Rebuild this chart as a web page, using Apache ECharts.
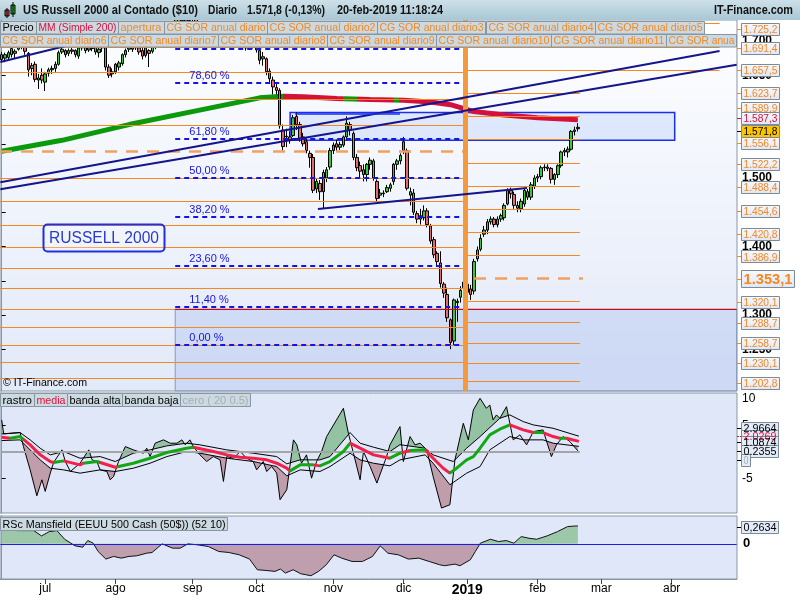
<!DOCTYPE html>
<html><head><meta charset="utf-8">
<script src="https://cdn.jsdelivr.net/npm/echarts@6/dist/echarts.min.js"></script>
<style>html,body{margin:0;padding:0;background:#fff}#c{width:800px;height:600px}</style>
</head><body><div id="c"></div>
<script>
// ================= DATA =================
const startDate = [2018, 5, 13];
const holidays = ['2018-07-04','2018-09-03','2018-11-22','2018-12-05','2018-12-25','2019-01-01','2019-01-21','2019-02-18'];
const nDays = 220;
const monthNames = ['ene','feb','mar','abr','may','jun','jul','ago','sep','oct','nov','dic'];

// daily candles [open, close, low, high]
const candles = [
[1680,1673,1670,1684],[1675,1680,1669,1683],[1676,1683,1672,1686],[1680,1689,1676,1691],[1682,1685,1675,1688],
[1688,1706,1686,1708],[1705,1692,1688,1708],[1695,1685,1680,1697],[1682,1658,1648,1684],[1660,1664,1650,1668],
[1666,1644,1640,1670],[1643,1646,1630,1652],[1650,1643,1638,1660],[1640,1652,1627,1655],[1653,1658,1648,1661],
[1658,1660,1652,1664],[1660,1666,1655,1670],[1666,1683,1664,1686],[1684,1688,1681,1692],[1686,1680,1676,1688],
[1682,1686,1678,1689],[1687,1685,1681,1690],[1686,1680,1676,1688],[1678,1690,1674,1692],[1690,1693,1686,1696],
[1692,1686,1682,1695],[1687,1690,1684,1693],[1689,1695,1685,1697],[1697,1684,1680,1700],[1683,1688,1676,1690],
[1690,1693,1684,1698],[1690,1662,1657,1693],[1662,1650,1646,1666],[1652,1655,1647,1660],[1655,1666,1652,1668],
[1662,1668,1657,1671],[1667,1680,1664,1682],[1680,1686,1676,1689],[1688,1690,1684,1694],[1690,1688,1684,1693],
[1690,1693,1687,1697],[1690,1684,1680,1692],[1686,1678,1673,1690],[1679,1690,1676,1692],[1686,1682,1662,1688],
[1685,1693,1682,1697],[1693,1699,1688,1703],[1700,1703,1696,1707],[1705,1718,1703,1721],[1716,1721,1712,1724],
[1720,1713,1708,1723],[1715,1725,1712,1727],[1728,1732,1724,1736],[1733,1728,1723,1735],[1730,1737,1726,1740],
[1736,1729,1725,1738],[1730,1740,1728,1742],[1738,1733,1727,1741],[1732,1720,1715,1734],[1720,1718,1710,1723],
[1715,1713,1707,1719],[1716,1718,1712,1721],[1716,1719,1710,1721],[1719,1714,1710,1722],[1716,1719,1713,1722],
[1720,1724,1716,1726],[1723,1710,1708,1725],[1711,1713,1707,1717],[1713,1709,1704,1716],[1712,1722,1710,1724],
[1722,1704,1701,1725],[1703,1692,1688,1705],[1692,1699,1690,1701],[1700,1690,1686,1706],[1692,1695,1688,1698],
[1693,1697,1689,1699],[1699,1687,1683,1703],[1686,1672,1666,1690],[1674,1677,1664,1684],[1674,1655,1650,1676],
[1656,1645,1638,1660],[1643,1633,1622,1648],[1632,1628,1622,1638],[1628,1576,1572,1631],[1570,1546,1540,1578],
[1560,1561,1545,1572],[1560,1556,1550,1568],[1562,1588,1560,1592],[1590,1578,1570,1596],[1578,1558,1553,1582],
[1560,1550,1546,1566],[1553,1540,1536,1558],[1536,1530,1515,1540],[1530,1482,1478,1535],[1484,1495,1478,1500],
[1492,1480,1468,1497],[1480,1508,1456,1512],[1500,1512,1494,1516],[1516,1540,1512,1544],[1540,1548,1535,1552],
[1550,1545,1538,1556],[1545,1549,1541,1553],[1548,1560,1545,1562],[1560,1580,1555,1590],[1578,1570,1562,1582],
[1565,1530,1526,1568],[1530,1515,1510,1535],[1518,1510,1500,1524],[1512,1505,1495,1520],[1505,1520,1495,1522],
[1520,1526,1512,1530],[1525,1500,1496,1528],[1495,1470,1466,1498],[1475,1478,1470,1484],[1478,1477,1472,1482],
[1480,1486,1478,1490],[1485,1490,1480,1493],[1495,1520,1490,1522],[1520,1525,1512,1528],[1525,1533,1520,1536],
[1553,1540,1535,1560],[1540,1485,1482,1543],[1475,1480,1460,1486],[1478,1450,1446,1484],[1448,1440,1434,1452],
[1445,1440,1432,1455],[1442,1452,1438,1460],[1452,1432,1428,1456],[1430,1408,1404,1433],[1410,1388,1383,1414],
[1390,1378,1370,1393],[1376,1346,1340,1393],[1345,1332,1325,1348],[1330,1296,1290,1340],[1293,1260,1250,1295],
[1262,1322,1255,1324],[1318,1320,1290,1324],[1326,1336,1318,1342],[1340,1348,1335,1355],[1333,1345,1328,1350],
[1338,1330,1322,1344],[1335,1378,1330,1382],[1382,1395,1378,1400],[1396,1412,1393,1418],[1418,1424,1414,1430],
[1424,1436,1418,1440],[1436,1440,1432,1444],[1440,1432,1428,1443],[1432,1440,1428,1444],[1440,1445,1436,1448],
[1442,1460,1438,1463],[1462,1482,1460,1485],[1482,1477,1470,1486],[1476,1460,1455,1480],[1460,1456,1450,1466],
[1455,1466,1450,1470],[1462,1482,1458,1485],[1480,1472,1468,1484],[1472,1490,1468,1494],[1488,1500,1484,1504],
[1500,1502,1494,1506],[1502,1515,1498,1518],[1515,1516,1510,1520],[1516,1514,1510,1520],[1514,1498,1492,1516],
[1498,1505,1490,1507],[1505,1518,1500,1520],[1518,1538,1515,1540],[1538,1540,1532,1544],[1538,1542,1530,1546],
[1542,1568,1540,1570],[1568,1570,1562,1575],[1574,1572,1568,1580]
];

// simple 200-day moving average [dayIndex, value]
const maPts = [[0,1539],[18,1555],[38,1578],[58,1598],[77,1617],[84,1619.5],[90,1618.5],[100,1616],[110,1614.5],[120,1613.5],[128,1611],[134,1607],[141,1597],[150,1592],[160,1588],[172,1585]];

// annual levels (CG SOR) 2018 / 2019 and opening prices
const levels2018 = [1691.2,1654.7,1615.3,1577,1500,1466.4,1431.4,1398.8,1368.6,1339,1308.8,1282,1255.8,1231,1207.6];
const open2018 = 1538.4;
const levels2019 = [1725.2,1691.4,1657.5,1623.7,1589.9,1556.1,1522.2,1488.4,1454.6,1420.8,1386.9,1320.1,1288.7,1258.7,1230.1,1202.8];
const levels2019Long = [1725.2,1691.4,1657.5];
const open2019 = 1353.1;

// Fibonacci retracement levels
const fibLevels = [1688.3,1639.4,1557.5,1500,1443,1371.5,1311.7,1256];
const fibLabels = ['88,60 %','78,60 %','61,80 %','50,00 %','38,20 %','23,60 %','11,40 %','0,00 %'];

// drawn trend lines [[x1,y1],[x2,y2]] in (dayIndex, price)
const trendLines = [
  [[-0.4,1493.9],[214.3,1685.4]],
  [[-0.4,1483.5],[219.4,1665.4]],
  [[-0.4,1669.4],[26.4,1701.5]],
  [[94.4,1454.7],[156.8,1485.4]]
];
const blueBox = [[86.1,1595.6],[200.9,1555]];
const blueShort = [[87.6,1593.4],[118.9,1593.4]];
const lowBox = [[51.8,1308.8],[219.4,1189.2]];

// oscillator (rastro / media / bands)
const rastroPts = [[0,6.06],[0.6,3.43],[5.5,3.68],[6.5,1.05],[8.5,-3.33],[10.5,-8.2],[12,-5.2],[13,-7.38],[14.5,-3.95],[15.5,-1.95],[18,0.43],[19,-1.76],[20.5,-3.64],[23.4,-2.08],[26,0.43],[27,-1.45],[28.4,-1.76],[29.4,-3.33],[31.4,-3.64],[32.4,-5.2],[33.4,-4.58],[34.9,-1.76],[36.9,1.05],[39.3,0.43],[42.3,-0.2],[43.3,0.74],[44.3,-0.83],[45.8,1.68],[48.3,2.31],[50.3,1.68],[52.3,1.68],[53.8,2.31],[54.8,1.37],[56.2,2.31],[57.2,1.05],[59.2,-0.51],[61.2,-1.76],[63.2,-0.83],[65.2,-1.45],[66.2,-5.51],[67.2,-0.83],[69.2,-1.14],[71.2,0.12],[73.1,-1.14],[75.1,-1.76],[76.1,-3.33],[78.1,-1.76],[79.1,-3.64],[80.6,-2.71],[82.1,-3.95],[83.1,-8.95],[85.1,-7.07],[86.1,-2.39],[87.1,2.31],[88.1,1.37],[89.5,-2.08],[91,-0.51],[92.5,-4.89],[94,-1.76],[95.5,0.12],[97,2.93],[102,8.24],[103.5,3.55],[105,-0.2],[107,-5.2],[108,0.12],[110,-2.71],[112,-5.82],[114.9,-0.83],[115.9,1.37],[118.9,4.81],[119.9,-1.76],[121.9,2.93],[123.4,1.37],[124.9,1.68],[126.9,0.43],[128.8,-4.58],[131.3,-10.5],[133.8,-9.89],[135.3,-1.45],[137.8,5.43],[139.3,2.31],[140.8,7.93],[142.8,10.12],[144.7,8.24],[145.7,8.87],[146.7,6.06],[147.7,7.0],[148.7,6.37],[150.7,8.55],[152.7,2.31],[154.7,3.25],[156.7,1.37],[158.7,3.87],[161.6,4.18],[164.1,-0.83],[165.6,1.37],[167.6,2.93],[169.6,1.99],[172,0.24]];
const upperPts = [[0,3.43],[5.5,3.68],[8.5,2.31],[11.5,0.74],[14.5,-0.51],[18.5,0.12],[23.4,-1.14],[29.4,-0.83],[33.9,-1.76],[39.3,-0.2],[44.3,0.43],[49.3,1.18],[55.2,1.68],[59.2,1.37],[67.2,0.43],[75.1,-0.2],[82.1,-0.83],[85.1,-2.2],[89.1,-1.45],[95,-1.45],[98,-0.83],[104,3.68],[107,1.68],[111,0.93],[115.9,0.12],[118.9,1.4],[126.4,0.74],[128.8,-0.51],[134.8,-1.76],[138.8,0.74],[142.8,2.93],[148.7,6.37],[151.7,7.0],[155.7,5.74],[158.7,5.12],[164.6,4.49],[172.3,3.0]];
const lowerPts = [[0,2.18],[5.5,2.31],[8.5,0.43],[11.5,-1.45],[14.5,-3.02],[18.5,-3.33],[23.4,-3.95],[29.4,-3.33],[33.9,-3.64],[39.3,-3.02],[44.3,-2.08],[49.3,-0.83],[55.2,0.12],[59.2,-0.2],[67.2,-1.14],[75.1,-1.76],[82.1,-2.71],[85.1,-4.45],[89.1,-3.33],[95,-3.64],[98,-2.71],[104,-0.2],[107,-1.45],[111,-2.08],[115.9,-2.58],[118.9,-1.45],[126.4,-0.51],[128.8,-2.08],[133.8,-6.14],[138.8,-3.95],[142.8,-2.71],[145.7,0.43],[151.7,2.93],[155.7,2.31],[161.6,2.31],[164.6,1.68],[172.3,1.09]];
const mediaPts = [[0,2.81],[2.6,2.62],[5.5,2.93],[8.5,1.37],[11.5,-0.51],[14.5,-1.76],[15.5,-1.95],[18.5,-1.64],[23.4,-2.39],[24.4,-2.08],[28.4,-1.76],[29.4,-1.95],[33.9,-2.83],[39.3,-2.08],[44.3,-1.14],[49.3,-0.07],[55.2,0.74],[57.2,0.93],[63.2,0.12],[67.2,-0.51],[71.2,-0.95],[75.1,-1.14],[79.1,-1.45],[82.1,-2.08],[85.1,-3.02],[86.1,-3.52],[89.1,-2.39],[93,-2.39],[95,-2.58],[98,-1.76],[102,0.12],[104,1.68],[107,0.74],[111,-0.51],[115.9,-1.14],[118.9,-0.2],[121.9,0.3],[126.4,0.43],[126.9,0.12],[128.8,-1.14],[131.8,-3.02],[133.8,-3.95],[135.8,-3.02],[138.8,-1.45],[140.8,-0.83],[142.8,0.74],[145.7,3.25],[148.7,4.31],[151.7,5.12],[155.7,4.18],[158.7,3.68],[161.6,3.68],[164.6,2.93],[166.6,2.62],[168.6,2.62],[172.3,2.03]];
const mediaGreen = [[2.5,6.5],[15.5,18.5],[24.4,29],[34.4,57.2],[86.1,93.3],[95,104],[115.9,119.5],[121.9,126.4],[133.8,151.7],[158.7,161.6],[166.6,168.6]];
const maGreen = [[-1,84],[102,106],[117,118.5]];
const oscLast = [[2.9664,'2.9664','#000'],[2.0269,'2.0269','#e8103c'],[1.0874,'1.0874','#000'],[0.2355,'0.2355','#000'],[0,'0','#a6aeb6']];

// RSc Mansfield
const rscPts = [[0,0.205],[5,0.195],[9.6,0.195],[11.9,0.117],[14.2,0.18],[16.5,0.195],[18.8,0.068],[21.9,-0.029],[24.2,-0.049],[25.7,0.049],[27.3,0.01],[28.8,-0.112],[31.1,-0.224],[33.4,-0.185],[35.7,-0.21],[38,-0.185],[40.3,-0.176],[43.3,-0.137],[44.9,-0.127],[47.9,0],[51,-0.063],[53.3,-0.063],[55.6,0],[58.6,-0.015],[61.7,-0.039],[64.8,-0.112],[67.8,-0.127],[70.9,-0.161],[74,-0.224],[76.3,-0.381],[78.6,-0.39],[81.6,-0.405],[83.2,-0.371],[84.7,-0.43],[87,-0.381],[89.3,-0.44],[90.8,-0.454],[92.3,-0.469],[94.6,-0.405],[96.9,-0.307],[99.2,-0.161],[101.5,-0.21],[104.6,-0.259],[107.7,-0.259],[110.7,-0.185],[113,-0.029],[115.3,-0.137],[118.4,-0.161],[121.4,-0.224],[124.5,-0.21],[127.6,-0.259],[130.7,-0.307],[132.2,-0.322],[135.3,-0.298],[136.8,-0.322],[139.9,-0.234],[141.4,-0.112],[142.9,0.01],[145.9,0.068],[148.3,0.034],[150.6,0.049],[152.9,0.01],[155.1,0.107],[157.4,0.083],[159.7,0.068],[162.8,0.117],[165.9,0.18],[168.9,0.254],[171.2,0.263],[172,0.2634]];

// right price axis labels [value, kind, displayShift]
const priceLabels = [[1725.2,'o',5],[1691.4,'o',1],[1657.5,'o',0],[1623.7,'o',0],[1589.9,'o',-8],[1587.3,'r',0],[1556.1,'o',3.5],[1522.2,'o',1],[1488.4,'o',1],[1454.6,'o',2],[1420.8,'o',2],[1386.9,'o',1],[1353.1,'big',0],[1320.1,'o',1],[1288.7,'o',0],[1258.7,'o',0],[1230.1,'o',0],[1202.8,'o',1],[1571.8,'y',2]];
const blackTicks = [1250,1300,1350,1400,1450,1500,1550,1600,1650,1700];

// ================= HELPERS =================
function fmtNum(v, dec){
  const s = Math.abs(v).toFixed(dec); let p = s.split('.');
  let i = p[0].replace(/\B(?=(\d{3})+(?!\d))/g,'.');
  return (v<0?'-':'') + (p[1] ? i + ',' + p[1] : i);
}
function buildDates(){
  const out=[]; let t = Date.UTC(startDate[0],startDate[1],startDate[2]);
  while(out.length<nDays){
    const d=new Date(t), dow=d.getUTCDay(), s=d.toISOString().slice(0,10);
    if(dow!==0 && dow!==6 && holidays.indexOf(s)<0) out.push(s);
    t += 86400000;
  }
  return out;
}
const dates = buildDates();
const monthStart = dates.map((d,i)=> i>0 && d.slice(5,7)!==dates[i-1].slice(5,7));

function evalAt(arr, x){
  if (x < arr[0][0] || x > arr[arr.length-1][0]) return null;
  for (let k=1;k<arr.length;k++){
    if (x <= arr[k][0]) { const a=arr[k-1], b=arr[k]; const t=(x-a[0])/((b[0]-a[0])||1); return a[1]+t*(b[1]-a[1]); }
  }
  return arr[arr.length-1][1];
}
function regions(A,B,sign){
  const lo=Math.max(A[0][0],B[0][0]), hi=Math.min(A[A.length-1][0],B[B.length-1][0]);
  const xs=Array.from(new Set(A.map(p=>p[0]).concat(B.map(p=>p[0])))).filter(x=>x>=lo&&x<=hi).sort((a,b)=>a-b);
  const polys=[]; let cur=null, px=null, pd=null;
  xs.forEach(x=>{
    const a=evalAt(A,x), b=evalAt(B,x), d=sign*(a-b);
    if (px!==null && ((pd>0)!==(d>0))){
      const xc = px + (x-px)*pd/(pd-d); const yc = evalAt(A,xc);
      if (cur){ cur.top.push([xc,yc]); polys.push(cur); cur=null; }
      else cur={top:[[xc,yc]], bot:[]};
    }
    if (d>0){ if(!cur) cur={top:[],bot:[]}; cur.top.push([x,a]); cur.bot.push([x,b]); }
    px=x; pd=d;
  });
  if(cur) polys.push(cur);
  return polys.map(p=>p.top.concat(p.bot.slice().reverse()));
}
function pieces(greens, gCol, rCol){
  const out=[]; let last=-10;
  greens.forEach(g=>{ out.push({gte:last, lt:g[0], color:rCol}); out.push({gte:g[0], lt:g[1], color:gCol}); last=g[1]; });
  out.push({gte:last, lte:1000, color:rCol});
  return out;
}

// ================= CHART =================
const ORANGE = '#f5881f';
const yMin = 1189.05, yMax = 1730.66;
const chart = echarts.init(document.getElementById('c'), null, {width:800, height:600});

const segs = [];
levels2018.forEach(v=>segs.push([{coord:[-0.5,v], lineStyle:{color:ORANGE,width:1,type:'solid'}},{coord:[138.3,v]}]));
segs.push([{coord:[-0.5,open2018], lineStyle:{color:'#f2a060',width:2.5,type:[12,9]}},{coord:[138.3,open2018]}]);
levels2019.forEach(v=>{
  const end = levels2019Long.indexOf(v)>=0 ? 214.3 : 172.6;
  segs.push([{coord:[139,v], lineStyle:{color:ORANGE,width:1,type:'solid'}},{coord:[end,v]}]);
});
segs.push([{coord:[141,open2019], lineStyle:{color:'#f2a060',width:2.5,type:[12,9]}},{coord:[173.5,open2019]}]);
fibLevels.forEach(v=>segs.push([{coord:[51.8,v], lineStyle:{color:'#1414e6',width:2,type:[5,4]}},{coord:[138.3,v]}]));
segs.push([{coord:[lowBox[0][0],lowBox[0][1]], lineStyle:{color:'#e00000',width:1,type:'solid'}},{coord:[219.4,lowBox[0][1]]}]);
segs.push([{coord:[138.5,yMin+0.1], lineStyle:{color:'#f39a3e',width:5,type:'solid'}},{coord:[138.5,yMax-0.1]}]);

const frontSegs = trendLines.map(t=>[{coord:t[0], lineStyle:{color:'#14148c',width:2,type:'solid'}},{coord:t[1]}]);
frontSegs.push([{coord:blueShort[0], lineStyle:{color:'#1a2ef0',width:1.5,type:'solid'}},{coord:blueShort[1]}]);

const axisGray = '#8797a6';
const option = {
  animation:false,
  backgroundColor:'#ffffff',
  grid:[
    {left:0, top:20, width:737, height:371, show:true, backgroundColor:{type:'linear',x:0,y:0,x2:0,y2:1,colorStops:[{offset:0,color:'#fdfeff'},{offset:1,color:'#e2e9f8'}]}, borderColor:axisGray, borderWidth:1, outerBoundsMode:'none', containLabel:false},
    {left:0, top:393, width:737, height:120, show:true, backgroundColor:'#dfe7f8', borderColor:axisGray, borderWidth:1, outerBoundsMode:'none', containLabel:false},
    {left:0, top:516, width:737, height:63, show:true, backgroundColor:'#dfe7f8', borderColor:axisGray, borderWidth:1, outerBoundsMode:'none', containLabel:false}
  ],
  xAxis:[
    {type:'category', gridIndex:0, data:dates, show:false},
    {type:'value', gridIndex:0, min:-0.5, max:nDays-0.5, show:false},
    {type:'value', gridIndex:1, min:-0.5, max:nDays-0.5, show:false},
    {type:'value', gridIndex:2, min:-0.5, max:nDays-0.5, show:false},
    {type:'category', gridIndex:2, data:dates, position:'bottom',
      axisLine:{show:true, lineStyle:{color:axisGray}},
      axisTick:{show:true, alignWithLabel:true, interval:(i)=>monthStart[i], length:5, lineStyle:{color:'#444'}},
      axisLabel:{interval:(i)=>monthStart[i], margin:4, color:'#000', fontSize:12, fontFamily:'Liberation Sans, Arial',
        formatter:(v)=>{ const m=parseInt(v.slice(5,7),10)-1; return m===0 ? '{y|'+v.slice(0,4)+'}' : monthNames[m]; },
        rich:{y:{fontWeight:'bold', fontSize:14, color:'#000', fontFamily:'Liberation Sans, Arial'}}},
      splitLine:{show:false}}
  ],
  yAxis:[
    {type:'value', gridIndex:0, position:'right', min:yMin, max:yMax, splitLine:{show:false},
      axisLine:{show:true, lineStyle:{color:axisGray}},
      axisTick:{show:true, customValues:blackTicks, length:4, lineStyle:{color:'#000'}},
      axisLabel:{show:true, customValues:blackTicks, formatter:(v)=>fmtNum(v,0), color:'#000', fontWeight:'bold', fontSize:12, margin:5, fontFamily:'Liberation Sans, Arial'}},
    {type:'value', gridIndex:1, position:'right', min:-11.44, max:11.12, splitLine:{show:false},
      axisLine:{show:true, lineStyle:{color:axisGray}},
      axisTick:{show:true, customValues:[10,5,-5], length:4, lineStyle:{color:'#000'}},
      axisLabel:{show:true, customValues:[10,5,-5], color:'#000', fontSize:12, margin:5, fontFamily:'Liberation Sans, Arial'}},
    {type:'value', gridIndex:2, position:'right', min:-0.517, max:0.41, splitLine:{show:false},
      axisLine:{show:true, lineStyle:{color:axisGray}},
      axisTick:{show:true, customValues:[0], length:4, lineStyle:{color:'#000'}},
      axisLabel:{show:true, customValues:[0], color:'#000', fontSize:13, fontWeight:'bold', margin:6, fontFamily:'Liberation Sans, Arial'}}
  ],
  visualMap:[
    {type:'piecewise', show:false, seriesIndex:1, dimension:0, pieces:pieces(maGreen,'#0b9a0b','#d4103c')},
    {type:'piecewise', show:false, seriesIndex:8, dimension:0, pieces:pieces(mediaGreen,'#12a812','#f4204a')},
    {type:'piecewise', show:false, seriesIndex:9, dimension:1, pieces:[{gte:0, lte:10, color:'#9cc7a9'},{gte:-10, lt:0, color:'#bf9fae'}]}
  ],
  series:[
    // 0 back overlays
    {type:'line', xAxisIndex:1, yAxisIndex:0, data:[[0,1500]], symbol:'none', lineStyle:{opacity:0}, silent:true, z:2,
      markArea:{silent:true, label:{show:false}, data:[
        [{coord:lowBox[0], itemStyle:{color:'rgba(176,196,240,0.42)', borderColor:'#8a98b8', borderWidth:1}},{coord:lowBox[1]}],
        [{coord:blueBox[0], itemStyle:{color:'rgba(196,212,250,0.45)', borderColor:'#1a2ef0', borderWidth:1.5}},{coord:blueBox[1]}]
      ]},
      markLine:{silent:true, symbol:['none','none'], label:{show:false}, data:segs}},
    // 1 moving average
    {type:'line', xAxisIndex:1, yAxisIndex:0, data:maPts, symbol:'none', lineStyle:{width:5}, z:3, silent:true},
    // 2 candles
    {type:'candlestick', xAxisIndex:0, yAxisIndex:0, data:candles, barWidth:3, z:4, silent:true,
      itemStyle:{color:'#33cc33', color0:'#e46b6b', borderColor:'#000', borderColor0:'#000', borderWidth:1}},
    // 3 front overlays
    {type:'line', xAxisIndex:1, yAxisIndex:0, data:[[0,1500]], symbol:'none', lineStyle:{opacity:0}, silent:true, z:5,
      markLine:{silent:true, symbol:['none','none'], label:{show:false}, data:frontSegs}},
    // 4 oscillator fills
    {type:'custom', xAxisIndex:2, yAxisIndex:1, data:[[0,0]], silent:true, z:1, clip:true,
      renderItem:function(params, api){
        const ch=[];
        regions(rastroPts, upperPts, 1).forEach(p=>ch.push({type:'polygon', shape:{points:p.map(q=>api.coord(q))}, style:{fill:'#93c3a3'}}));
        regions(rastroPts, lowerPts, -1).forEach(p=>ch.push({type:'polygon', shape:{points:p.map(q=>api.coord(q))}, style:{fill:'#bf9daa'}}));
        return {type:'group', children:ch};
      }},
    // 5 upper band
    {type:'line', xAxisIndex:2, yAxisIndex:1, data:upperPts, symbol:'none', lineStyle:{color:'#000', width:1}, z:3, silent:true,
      markLine:{silent:true, symbol:['none','none'], label:{show:false}, data:[[{coord:[0,0], lineStyle:{color:'#a4a4a4', width:2, type:'solid'}},{coord:[172.6,0]}]]}},
    // 6 lower band
    {type:'line', xAxisIndex:2, yAxisIndex:1, data:lowerPts, symbol:'none', lineStyle:{color:'#000', width:1}, z:3, silent:true},
    // 7 rastro
    {type:'line', xAxisIndex:2, yAxisIndex:1, data:rastroPts, symbol:'none', lineStyle:{color:'#000', width:1}, z:4, silent:true},
    // 8 media
    {type:'line', xAxisIndex:2, yAxisIndex:1, data:mediaPts, symbol:'none', lineStyle:{width:3}, z:5, silent:true},
    // 9 RSc area
    {type:'line', xAxisIndex:3, yAxisIndex:2, data:rscPts, symbol:'none', lineStyle:{width:0, opacity:0}, areaStyle:{opacity:1}, z:2, silent:true},
    // 10 RSc line
    {type:'line', xAxisIndex:3, yAxisIndex:2, data:rscPts, symbol:'none', lineStyle:{color:'#111', width:1}, z:3, silent:true,
      markLine:{silent:true, symbol:['none','none'], label:{show:false}, data:[[{coord:[-0.4,0], lineStyle:{color:'#1e1ee0', width:1.2, type:'solid'}},{coord:[nDays-0.6,0]}]]}}
  ]
};
chart.setOption(option);

// ================= ANNOTATIONS =================
const mctx = document.createElement('canvas').getContext('2d');
const FF = '"Liberation Sans", Arial, sans-serif';
function textEl(x, y, str, font, color, opts){
  opts = opts || {};
  mctx.font = font; const tw = mctx.measureText(str).width;
  const sc = opts.w ? Math.min(opts.grow?10:1, opts.w/tw) : 1;
  return {type:'text', z:opts.z||101, x:x, y:y, scaleX:sc, silent:true,
    style:{text:str, font:font, fill:color, align:opts.align||'left', textAlign:opts.align||'left', verticalAlign:'middle', textVerticalAlign:'middle'}};
}
function boxEl(x, y, w, h, str, color, o){
  o = o || {};
  const els=[];
  els.push({type:'rect', z:o.z||100, silent:true, shape:{x:Math.round(x)+0.5, y:Math.round(y)+0.5, width:w, height:h},
    style:{fill:o.fill||'#ccd9e1', stroke:o.stroke||'#8696a2', lineWidth:1}});
  const font = (o.bold?'bold ':'') + (o.size||11) + 'px ' + FF;
  mctx.font = font; const tw = mctx.measureText(str).width;
  const sc = Math.min(1, (w-4)/tw);
  if (o.center) els.push(Object.assign(textEl(x+w/2+0.5, y+h/2+1, str, font, color, {align:'center', z:(o.z||100)+1}), {scaleX:sc}));
  else els.push(Object.assign(textEl(x+2.5, y+h/2+1, str, font, color, {z:(o.z||100)+1}), {scaleX:sc}));
  return els;
}
const py = v => chart.convertToPixel({yAxisIndex:0}, v);
const pxm = i => chart.convertToPixel({xAxisIndex:1}, i);
const oy = v => chart.convertToPixel({yAxisIndex:1}, v);
const ry = v => chart.convertToPixel({yAxisIndex:2}, v);

let G = [];
// title bar
G.push({type:'rect', z:99, silent:true, shape:{x:0,y:0,width:800,height:20}, style:{fill:{type:'linear',x:0,y:0,x2:0,y2:1,colorStops:[{offset:0,color:'#cde0e8'},{offset:1,color:'#a9c7d5'}]}}});
G.push({type:'rect', z:100, silent:true, shape:{x:5,y:10,width:4,height:6}, style:{fill:'#e05050', stroke:'#000', lineWidth:1}});
G.push({type:'line', z:100, silent:true, shape:{x1:7,y1:8,x2:7,y2:18}, style:{stroke:'#000', lineWidth:1}});
G.push({type:'rect', z:100, silent:true, shape:{x:11,y:5,width:4,height:9}, style:{fill:'#30c030', stroke:'#000', lineWidth:1}});
G.push({type:'line', z:100, silent:true, shape:{x1:13,y1:2,x2:13,y2:17}, style:{stroke:'#000', lineWidth:1}});
const TB = 'bold 12px ' + FF;
G.push(textEl(23, 11, 'US Russell 2000 al Contado ($10)', TB, '#111', {w:175}));
G.push(textEl(208, 11, 'Diario', TB, '#111', {w:29}));
G.push(textEl(247, 11, '1.571,8 (-0,13%)', TB, '#111', {w:78}));
G.push(textEl(337, 11, '20-feb-2019 11:18:24', TB, '#111', {w:106}));
G.push(textEl(793, 11, 'IT-Finance.com', TB, '#111', {w:79, align:'right'}));

// legend rows
const row1 = [['Precio','#000',0,36],['MM (Simple 200)','#d8103c',36,82],['apertura',ORANGE,118,46],['CG SOR anual diario',ORANGE,164,103],['CG SOR anual diario2',ORANGE,267,110],['CG SOR anual diario3',ORANGE,377,108],['CG SOR anual diario4',ORANGE,486,109],['CG SOR anual diario5',ORANGE,595,109]];
const row2 = [['CG SOR anual diario6',ORANGE,0,108],['CG SOR anual diario7',ORANGE,108,110],['CG SOR anual diario8',ORANGE,218,109],['CG SOR anual diario9',ORANGE,327,109],['CG SOR anual diario10',ORANGE,436,115],['CG SOR anual diario11',ORANGE,551,115],['CG SOR anua',ORANGE,666,70]];
row1.forEach(r=>{ G = G.concat(boxEl(r[2], 20.5, r[3], 12.5, r[0], r[1])); });
row2.forEach(r=>{ G = G.concat(boxEl(r[2], 33.5, r[3], 12.5, r[0], r[1])); });

// fib labels
fibLevels.forEach((v,k)=>{ G.push(textEl(pxm(56), py(v)-7, fibLabels[k], '11px '+FF, '#1414e6', {z:50})); });

// RUSSELL 2000 box, copyright
G.push({type:'rect', z:60, silent:true, shape:{x:43.5,y:224.5,width:121,height:27,r:4}, style:{fill:'rgba(255,255,255,0.25)', stroke:'#2030e0', lineWidth:2}});
G.push(textEl(104, 239, 'RUSSELL 2000', '16px '+FF, '#2a3ad0', {align:'center', z:61, w:110}));
G.push(textEl(3, 383, '\u00a9 IT-Finance.com', '11px '+FF, '#000', {z:61, w:84}));

// right price labels
priceLabels.forEach(p=>{
  const v=p[0], kind=p[1], yc=py(v)+p[2];
  let col=ORANGE, fill={type:'linear',x:0,y:0,x2:0,y2:1,colorStops:[{offset:0,color:'#f7f9fd'},{offset:1,color:'#dfe6f4'}]}, w=38, h=12, size=11, bold=false, tick=ORANGE;
  if(kind==='r'){ col='#d8103c'; tick='#d8103c'; }
  if(kind==='y'){ col='#000'; fill='#ffc400'; tick='#000'; }
  if(kind==='big'){ w=53; h=17; size=15; bold=true; }
  G.push({type:'line', z:100, silent:true, shape:{x1:737, y1:Math.round(yc)+0.5, x2:742, y2:Math.round(yc)+0.5}, style:{stroke:tick, lineWidth:1}});
  G = G.concat(boxEl(741, yc-h/2, w, h, fmtNum(v,1), col, {fill:fill, stroke:'#7c8b99', size:size, bold:bold, center:true}));
});

// oscillator legend + last values
[['rastro','#000',0,34],['media','#e8103c',34,33],['banda alta','#000',67,55],['banda baja','#000',122,58],['cero ( 20 0.5)','#a6aeb6',180,70]].forEach(r=>{
  G = G.concat(boxEl(r[2], 393, r[3], 13, r[0], r[1], {size:11.5}));
});
const oscShift = [-8.5,-5.5,-4.5,0,7.5];
oscLast.forEach((o,k)=>{
  const yc = oy(o[0]) + oscShift[k];
  const w = o[1]==='0' ? 9 : 37;
  G.push({type:'line', z:100, silent:true, shape:{x1:737, y1:Math.round(yc)+0.5, x2:742, y2:Math.round(yc)+0.5}, style:{stroke:o[2]==='#a6aeb6'?'#000':o[2], lineWidth:1, lineDash:o[2]==='#e8103c'?[2,1]:null}});
  G = G.concat(boxEl(741, yc-6, w, 12, o[1], o[2], {fill:'#e4ebf8', stroke:'#7c8b99', size:11.5, center:true}));
});

// RSc legend + last value
G = G.concat(boxEl(0, 517, 227, 13, 'RSc Mansfield (EEUU 500 Cash (50$)) (52 10)', '#000', {size:11}));
const rLast = rscPts[rscPts.length-1][1];
const rY = ry(rLast) + 1.5;
G.push({type:'line', z:100, silent:true, shape:{x1:737, y1:Math.round(rY)+0.5, x2:742, y2:Math.round(rY)+0.5}, style:{stroke:'#000', lineWidth:1}});
G = G.concat(boxEl(741, rY-6, 37, 12, fmtNum(rLast,4), '#000', {fill:'#e4ebf8', stroke:'#7c8b99', size:11, center:true}));

chart.setOption({graphic:{elements:G}});
</script>
</body></html>
